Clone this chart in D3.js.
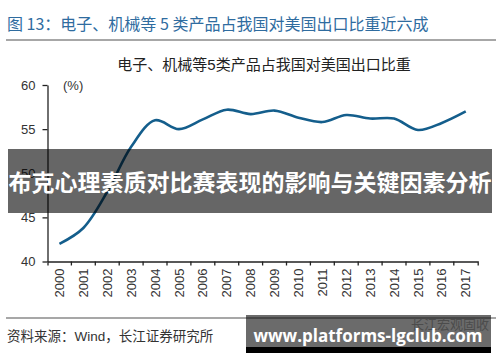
<!DOCTYPE html>
<html>
<head>
<meta charset="utf-8">
<script src="https://cdn.jsdelivr.net/npm/d3@7"></script>
<style>
body { margin: 0; background: #fff; }
text { font-family: "Liberation Sans", "Noto Sans CJK SC", sans-serif; }
</style>
</head>
<body>
<script>
// data
var years = ["2000", "2001", "2002", "2003", "2004", "2005", "2006", "2007", "2008",
             "2009", "2010", "2011", "2012", "2013", "2014", "2015", "2016", "2017"];
var share = [42.0, 43.8, 47.9, 53.0, 56.0, 55.0, 56.1, 57.2, 56.7,
             57.1, 56.3, 55.8, 56.6, 56.2, 56.2, 54.9, 55.7, 57.0];
var yTicks = [40, 45, 50, 55, 60];

var headerText = "图 13：电子、机械等 5 类产品占我国对美国出口比重近六成";
var chartTitle = "电子、机械等5类产品占我国对美国出口比重";
var unitText = "(%)";
var sourceText = "资料来源：Wind，长江证券研究所";
var bannerText = "布克心理素质对比赛表现的影响与关键因素分析";
var siteText = "www.platforms-lgclub.com";
var markText = "长江宏观固收";

var svg = d3.select("body")
            .append("svg")
            .attr("width", 500)
            .attr("height", 362);

// scales
var x = d3.scaleBand().domain(years).range([47.5, 477.7]);
var y = d3.scaleLinear().domain([40, 60]).range([261.5, 85]);

// header
svg.append("text")
  .attr("x", 7)
  .attr("y", 30)
  .style("font-family", "'Noto Sans CJK SC', sans-serif")
  .style("font-size", "16px")
  .style("fill", "#2f6c9f")
  .text(headerText);

svg.append("line")
  .attr("x1", 6).attr("x2", 496)
  .attr("y1", 40).attr("y2", 40)
  .style("stroke", "#8a8a8a")
  .style("stroke-width", 1.5);

// chart title
svg.append("text")
  .attr("x", 264)
  .attr("y", 70)
  .attr("text-anchor", "middle")
  .style("font-size", "15px")
  .style("fill", "#222")
  .text(chartTitle);

// y axis
var yAxis = svg.append("g")
  .attr("transform", "translate(" + x.range()[0] + ",0)")
  .call(d3.axisLeft(y).tickValues(yTicks).tickSize(5).tickSizeOuter(0).tickPadding(7));
yAxis.selectAll("text").style("font-size", "13px").style("fill", "#333");
yAxis.selectAll("path, line").style("stroke", "#222").style("stroke-width", 1.3);

svg.append("text")
  .attr("x", 63)
  .attr("y", 90)
  .style("font-size", "13px")
  .style("fill", "#333")
  .text(unitText);

// x axis
var xAxis = svg.append("g")
  .attr("transform", "translate(0," + y(40) + ")")
  .call(d3.axisBottom(x).tickSize(0).tickSizeOuter(4).tickPadding(0));
xAxis.selectAll("path").style("stroke", "#222").style("stroke-width", 1.3);
xAxis.selectAll("text")
  .attr("transform", "rotate(-90)")
  .attr("x", -7)
  .attr("y", 0)
  .attr("dy", "0.35em")
  .attr("text-anchor", "end")
  .style("font-size", "13px")
  .style("fill", "#333");

// tick marks between categories
xAxis.selectAll(".bound")
  .data(years.slice(1))
  .enter()
  .append("line")
  .attr("class", "bound")
  .attr("x1", function(d) { return x(d); })
  .attr("x2", function(d) { return x(d); })
  .attr("y1", 0).attr("y2", 4)
  .style("stroke", "#222")
  .style("stroke-width", 1.3);

// line
var line = d3.line()
  .x(function(d, i) { return x(years[i]) + x.bandwidth() / 2; })
  .y(function(d) { return y(d); })
  .curve(d3.curveCatmullRom.alpha(0.5));

svg.append("path")
  .datum(share)
  .attr("d", line)
  .style("fill", "none")
  .style("stroke", "#145e8c")
  .style("stroke-width", 2.6);

// bottom rule and source
svg.append("line")
  .attr("x1", 6).attr("x2", 496)
  .attr("y1", 318).attr("y2", 318)
  .style("stroke", "#8a8a8a")
  .style("stroke-width", 1.5);

svg.append("text")
  .attr("x", 7)
  .attr("y", 341)
  .style("font-size", "13.5px")
  .style("fill", "#333")
  .text(sourceText);

// overlay banner
svg.append("rect")
  .attr("x", 8).attr("y", 149)
  .attr("width", 484).attr("height", 64)
  .style("fill", "#000")
  .style("opacity", 0.6);

svg.append("text")
  .attr("x", 250)
  .attr("y", 191)
  .attr("text-anchor", "middle")
  .style("font-family", "'Noto Sans CJK SC', sans-serif")
  .style("font-weight", "bold")
  .style("font-size", "23px")
  .style("fill", "#fff")
  .text(bannerText);

// site badge
svg.append("text")
  .attr("x", 489)
  .attr("y", 329)
  .attr("text-anchor", "end")
  .style("font-family", "'Noto Sans CJK SC', sans-serif")
  .style("font-size", "13px")
  .style("fill", "#b5b5b5")
  .text(markText);

svg.append("rect")
  .attr("x", 246).attr("y", 315)
  .attr("width", 245).attr("height", 32)
  .style("fill", "#000")
  .style("opacity", 0.58);

svg.append("rect")
  .attr("x", 246).attr("y", 347)
  .attr("width", 245).attr("height", 6)
  .style("fill", "#000");

svg.append("text")
  .attr("x", 368)
  .attr("y", 342)
  .attr("text-anchor", "middle")
  .style("font-family", "'Open Sans', sans-serif")
  .style("font-weight", "bold")
  .style("font-size", "17px")
  .style("fill", "#fff")
  .text(siteText);
</script>
</body>
</html>
